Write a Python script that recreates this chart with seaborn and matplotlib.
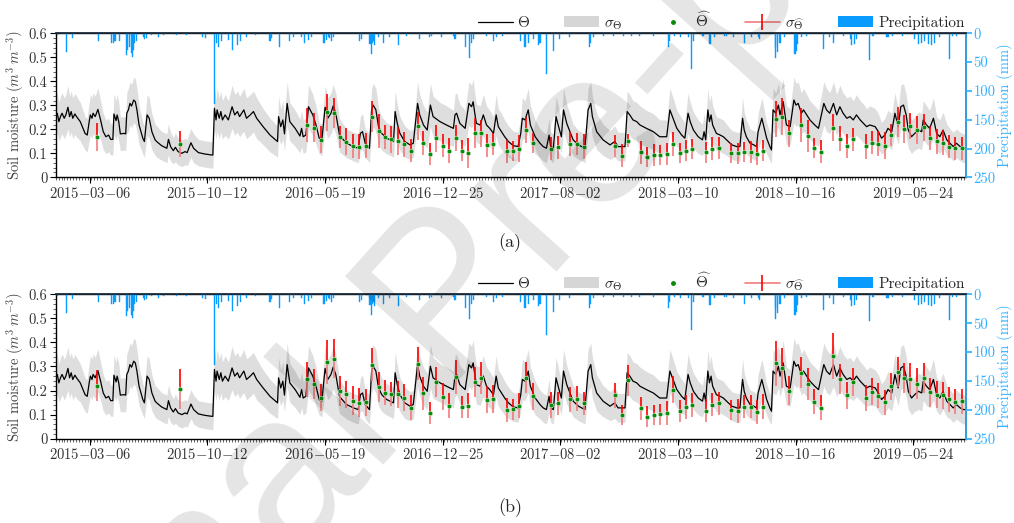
import pandas as pd
import numpy as np
import seaborn as sns
import matplotlib.pyplot as plt
from matplotlib.lines import Line2D
from matplotlib.patches import Patch
from matplotlib.ticker import FixedLocator, MultipleLocator

# days counted from 2015-01-01
start = pd.Timestamp('2015-01-01')

# simulated soil moisture (vertices) and its spread
theta_day = [0, 3, 6, 9, 12, 16, 19, 23, 26, 29, 32, 36, 39, 46, 55, 59, 63, 65, 68, 70, 74, 79, 84, 89, 94, 99,
             103, 107, 109, 113, 115, 118, 121, 128, 131, 133, 136, 139, 142, 146, 149, 152, 156, 163, 166, 171,
             175, 180, 186, 189, 198, 208, 211, 215, 220, 224, 229, 236, 242, 246, 253, 258, 267, 279, 292, 294,
             297, 300, 302, 306, 309, 312, 317, 323, 330, 335, 340, 344, 348, 352, 357, 364, 370, 376, 388, 401,
             415, 417, 421, 425, 428, 433, 438, 448, 457, 460, 463, 468, 473, 476, 481, 487, 493, 498, 504, 509,
             515, 519, 524, 531, 544, 557, 566, 570, 574, 579, 587, 591, 594, 599, 604, 610, 619, 632, 635, 639,
             644, 653, 663, 669, 677, 681, 688, 695, 701, 706, 719, 731, 744, 747, 750, 756, 766, 773, 778, 781,
             784, 787, 794, 800, 806, 812, 819, 824, 828, 834, 840, 847, 856, 865, 870, 873, 878, 881, 884, 888,
             897, 906, 912, 918, 923, 926, 931, 936, 940, 946, 950, 956, 968, 978, 984, 990, 996, 1001, 1004, 1012,
             1024, 1037, 1046, 1052, 1065, 1069, 1074, 1080, 1087, 1093, 1105, 1118, 1130, 1143, 1149, 1155, 1162,
             1171, 1177, 1183, 1187, 1193, 1202, 1210, 1213, 1216, 1220, 1223, 1226, 1229, 1236, 1243, 1249, 1255,
             1265, 1274, 1280, 1283, 1285, 1288, 1292, 1299, 1306, 1311, 1314, 1321, 1324, 1330, 1336, 1339, 1342,
             1347, 1352, 1355, 1361, 1367, 1374, 1381, 1385, 1389, 1395, 1399, 1405, 1411, 1420, 1427, 1437, 1442,
             1448, 1455, 1461, 1467, 1473, 1480, 1486, 1492, 1498, 1505, 1511, 1517, 1523, 1533, 1539, 1545, 1551,
             1557, 1564, 1570, 1576, 1581, 1586, 1591, 1595, 1601, 1607, 1614, 1620, 1623, 1629, 1635, 1642, 1648,
             1654, 1660, 1667, 1673, 1679, 1685, 1692, 1698, 1703]
theta_val = [0.260, 0.267, 0.232, 0.253, 0.267, 0.246, 0.260, 0.292, 0.253, 0.274, 0.246, 0.264, 0.253, 0.232,
             0.183, 0.176, 0.236, 0.260, 0.246, 0.267, 0.253, 0.283, 0.239, 0.190, 0.169, 0.176, 0.158, 0.158,
             0.264, 0.236, 0.260, 0.232, 0.181, 0.183, 0.181, 0.267, 0.281, 0.308, 0.297, 0.322, 0.315, 0.281,
             0.218, 0.163, 0.149, 0.260, 0.246, 0.190, 0.156, 0.149, 0.132, 0.121, 0.158, 0.128, 0.111, 0.125,
             0.107, 0.100, 0.107, 0.103, 0.144, 0.121, 0.103, 0.097, 0.093, 0.093, 0.288, 0.239, 0.281, 0.246,
             0.274, 0.239, 0.260, 0.239, 0.294, 0.260, 0.274, 0.253, 0.267, 0.281, 0.246, 0.260, 0.274, 0.246,
             0.211, 0.176, 0.149, 0.253, 0.211, 0.239, 0.181, 0.308, 0.232, 0.204, 0.172, 0.204, 0.169, 0.176,
             0.294, 0.281, 0.260, 0.218, 0.163, 0.156, 0.292, 0.246, 0.267, 0.297, 0.267, 0.175, 0.142, 0.128,
             0.121, 0.183, 0.190, 0.142, 0.121, 0.281, 0.301, 0.281, 0.211, 0.183, 0.163, 0.149, 0.274, 0.225,
             0.183, 0.149, 0.135, 0.142, 0.308, 0.260, 0.218, 0.197, 0.301, 0.253, 0.232, 0.218, 0.204, 0.260,
             0.267, 0.225, 0.204, 0.308, 0.294, 0.315, 0.267, 0.225, 0.218, 0.260, 0.218, 0.204, 0.183, 0.260,
             0.211, 0.190, 0.169, 0.149, 0.132, 0.128, 0.183, 0.246, 0.239, 0.260, 0.281, 0.218, 0.169, 0.142,
             0.128, 0.121, 0.176, 0.128, 0.121, 0.253, 0.218, 0.169, 0.281, 0.225, 0.156, 0.135, 0.128, 0.121,
             0.281, 0.308, 0.253, 0.190, 0.156, 0.135, 0.149, 0.128, 0.128, 0.274, 0.260, 0.239, 0.232, 0.218,
             0.204, 0.190, 0.169, 0.169, 0.281, 0.246, 0.204, 0.176, 0.163, 0.267, 0.232, 0.197, 0.169, 0.156,
             0.190, 0.156, 0.281, 0.232, 0.260, 0.218, 0.183, 0.176, 0.169, 0.156, 0.135, 0.128, 0.128, 0.204,
             0.246, 0.197, 0.169, 0.142, 0.135, 0.128, 0.190, 0.246, 0.218, 0.163, 0.128, 0.114, 0.281, 0.267,
             0.301, 0.260, 0.315, 0.218, 0.211, 0.322, 0.301, 0.308, 0.267, 0.281, 0.260, 0.239, 0.218, 0.204,
             0.308, 0.281, 0.267, 0.308, 0.260, 0.294, 0.267, 0.246, 0.253, 0.239, 0.260, 0.239, 0.225, 0.211,
             0.218, 0.211, 0.190, 0.163, 0.176, 0.204, 0.190, 0.267, 0.211, 0.294, 0.301, 0.260, 0.197, 0.169,
             0.183, 0.197, 0.190, 0.239, 0.218, 0.204, 0.246, 0.183, 0.169, 0.197, 0.156, 0.142, 0.128, 0.142,
             0.128, 0.121, 0.121]
theta_sig = [0.085, 0.085, 0.08, 0.085, 0.085, 0.085, 0.085, 0.09, 0.085, 0.085, 0.085, 0.085, 0.085, 0.08,
             0.07, 0.07, 0.08, 0.085, 0.085, 0.085, 0.085, 0.09, 0.08, 0.075, 0.07, 0.07, 0.065, 0.065,
             0.085, 0.08, 0.085, 0.08, 0.07, 0.07, 0.07, 0.085, 0.09, 0.09, 0.09, 0.095, 0.095, 0.09,
             0.08, 0.065, 0.065, 0.085, 0.085, 0.075, 0.065, 0.065, 0.06, 0.06, 0.065, 0.06, 0.055, 0.06,
             0.055, 0.055, 0.055, 0.055, 0.06, 0.06, 0.055, 0.055, 0.055, 0.055, 0.09, 0.08, 0.09, 0.085,
             0.085, 0.08, 0.085, 0.08, 0.09, 0.085, 0.085, 0.085, 0.085, 0.09, 0.085, 0.085, 0.085, 0.085,
             0.075, 0.07, 0.065, 0.085, 0.075, 0.08, 0.07, 0.09, 0.08, 0.075, 0.07, 0.075, 0.07, 0.07,
             0.09, 0.09, 0.085, 0.08, 0.065, 0.065, 0.09, 0.085, 0.085, 0.09, 0.085, 0.07, 0.06, 0.06,
             0.06, 0.07, 0.075, 0.06, 0.06, 0.09, 0.09, 0.09, 0.075, 0.07, 0.065, 0.065, 0.085, 0.08,
             0.07, 0.065, 0.06, 0.06, 0.09, 0.085, 0.08, 0.075, 0.09, 0.085, 0.08, 0.08, 0.075, 0.085,
             0.085, 0.08, 0.075, 0.09, 0.09, 0.095, 0.085, 0.08, 0.08, 0.085, 0.08, 0.075, 0.07, 0.085,
             0.075, 0.075, 0.07, 0.065, 0.06, 0.06, 0.07, 0.085, 0.08, 0.085, 0.09, 0.08, 0.07, 0.06,
             0.06, 0.06, 0.07, 0.06, 0.06, 0.085, 0.08, 0.07, 0.09, 0.08, 0.065, 0.06, 0.06, 0.06,
             0.09, 0.09, 0.085, 0.075, 0.065, 0.06, 0.065, 0.06, 0.06, 0.085, 0.085, 0.08, 0.08, 0.08,
             0.075, 0.075, 0.07, 0.07, 0.09, 0.085, 0.075, 0.07, 0.065, 0.085, 0.08, 0.075, 0.07, 0.065,
             0.075, 0.065, 0.09, 0.08, 0.085, 0.08, 0.07, 0.07, 0.07, 0.065, 0.06, 0.06, 0.06, 0.075,
             0.085, 0.075, 0.07, 0.06, 0.06, 0.06, 0.075, 0.085, 0.08, 0.065, 0.06, 0.055, 0.09, 0.085,
             0.09, 0.085, 0.095, 0.08, 0.075, 0.095, 0.09, 0.09, 0.085, 0.09, 0.085, 0.08, 0.08, 0.075,
             0.09, 0.09, 0.085, 0.09, 0.085, 0.09, 0.085, 0.085, 0.085, 0.08, 0.085, 0.08, 0.08, 0.075,
             0.08, 0.075, 0.075, 0.065, 0.07, 0.075, 0.075, 0.085, 0.075, 0.09, 0.09, 0.085, 0.075, 0.07,
             0.07, 0.075, 0.075, 0.08, 0.08, 0.075, 0.085, 0.07, 0.07, 0.075, 0.065, 0.06, 0.06, 0.06,
             0.06, 0.06, 0.06]

# retrieved soil moisture dates (shared by both panels)
obs_day = [77, 233, 471, 484, 496, 508, 520, 531, 544, 557, 568, 580, 592, 604, 616, 628, 640, 652, 664, 677,
           688, 700, 712, 724, 736, 748, 760, 772, 784, 796, 807, 819, 844, 855, 867, 879, 892, 927, 939, 963,
           975, 988, 1047, 1059, 1071, 1095, 1107, 1119, 1131, 1143, 1155, 1168, 1180, 1191, 1216, 1228, 1240,
           1264, 1276, 1288, 1300, 1312, 1324, 1347, 1359, 1372, 1395, 1407, 1419, 1432, 1455, 1467, 1480, 1491,
           1516, 1527, 1539, 1551, 1563, 1576, 1587, 1599, 1611, 1624, 1636, 1648, 1659, 1671, 1683, 1695]
obs_a_val = [0.169, 0.139, 0.218, 0.207, 0.156, 0.271, 0.267, 0.167, 0.149, 0.131, 0.128, 0.131, 0.253, 0.193,
             0.169, 0.158, 0.150, 0.138, 0.111, 0.213, 0.142, 0.097, 0.163, 0.132, 0.110, 0.164, 0.111, 0.100,
             0.186, 0.183, 0.133, 0.139, 0.108, 0.108, 0.119, 0.197, 0.144, 0.119, 0.125, 0.139, 0.139, 0.128,
             0.131, 0.090, 0.153, 0.104, 0.086, 0.093, 0.094, 0.097, 0.139, 0.100, 0.111, 0.117, 0.104, 0.119,
             0.121, 0.103, 0.100, 0.107, 0.106, 0.097, 0.111, 0.243, 0.253, 0.183, 0.218, 0.172, 0.121, 0.107,
             0.207, 0.160, 0.131, 0.158, 0.129, 0.144, 0.139, 0.131, 0.176, 0.229, 0.200, 0.214, 0.197, 0.208,
             0.163, 0.151, 0.144, 0.128, 0.121, 0.121]
obs_a_sig = [0.059, 0.053, 0.069, 0.059, 0.056, 0.078, 0.063, 0.045, 0.056, 0.049, 0.052, 0.052, 0.063, 0.069,
             0.049, 0.056, 0.059, 0.052, 0.049, 0.059, 0.049, 0.045, 0.056, 0.049, 0.052, 0.056, 0.045, 0.063,
             0.063, 0.056, 0.049, 0.045, 0.049, 0.042, 0.056, 0.056, 0.042, 0.049, 0.049, 0.049, 0.045, 0.052,
             0.045, 0.049, 0.028, 0.049, 0.042, 0.045, 0.042, 0.045, 0.049, 0.042, 0.045, 0.042, 0.045, 0.049,
             0.045, 0.042, 0.045, 0.042, 0.045, 0.045, 0.045, 0.073, 0.076, 0.056, 0.069, 0.066, 0.042, 0.049,
             0.056, 0.052, 0.049, 0.049, 0.052, 0.049, 0.052, 0.056, 0.045, 0.063, 0.059, 0.056, 0.059, 0.056,
             0.049, 0.052, 0.052, 0.049, 0.049, 0.049]
obs_b_val = [0.221, 0.206, 0.247, 0.228, 0.171, 0.319, 0.333, 0.199, 0.185, 0.158, 0.150, 0.151, 0.307, 0.215,
             0.190, 0.185, 0.185, 0.171, 0.129, 0.311, 0.189, 0.106, 0.235, 0.175, 0.136, 0.256, 0.131, 0.137,
             0.236, 0.251, 0.161, 0.164, 0.119, 0.122, 0.136, 0.254, 0.176, 0.140, 0.147, 0.164, 0.165, 0.147,
             0.181, 0.097, 0.242, 0.126, 0.092, 0.097, 0.101, 0.106, 0.203, 0.115, 0.132, 0.140, 0.117, 0.142,
             0.147, 0.119, 0.114, 0.133, 0.133, 0.112, 0.133, 0.314, 0.292, 0.200, 0.275, 0.226, 0.153, 0.129,
             0.344, 0.247, 0.181, 0.235, 0.169, 0.196, 0.178, 0.151, 0.217, 0.278, 0.251, 0.249, 0.229, 0.251,
             0.192, 0.183, 0.181, 0.164, 0.154, 0.156]
obs_b_sig = [0.066, 0.083, 0.073, 0.063, 0.056, 0.090, 0.080, 0.063, 0.056, 0.059, 0.059, 0.056, 0.069, 0.063,
             0.052, 0.049, 0.056, 0.056, 0.052, 0.069, 0.069, 0.045, 0.063, 0.056, 0.052, 0.069, 0.045, 0.052,
             0.063, 0.066, 0.056, 0.059, 0.049, 0.045, 0.052, 0.066, 0.056, 0.052, 0.049, 0.052, 0.052, 0.049,
             0.052, 0.042, 0.066, 0.049, 0.042, 0.042, 0.045, 0.049, 0.056, 0.045, 0.049, 0.049, 0.049, 0.049,
             0.049, 0.042, 0.049, 0.049, 0.049, 0.049, 0.052, 0.094, 0.083, 0.059, 0.066, 0.066, 0.052, 0.052,
             0.094, 0.063, 0.056, 0.059, 0.056, 0.056, 0.052, 0.052, 0.056, 0.063, 0.063, 0.066, 0.066, 0.063,
             0.059, 0.056, 0.056, 0.052, 0.052, 0.052]

# daily precipitation (mm)
rain_day = [3, 21, 32, 80, 105, 108, 111, 119, 132, 135, 138, 141, 143, 145, 148, 152, 164, 167, 170, 180, 192,
            201, 226, 245, 275, 281, 297, 300, 304, 311, 323, 331, 340, 346, 357, 373, 401, 404, 418, 438, 445,
            460, 466, 473, 479, 502, 506, 510, 513, 516, 519, 569, 572, 588, 590, 592, 594, 596, 604, 613, 625,
            641, 657, 681, 700, 703, 722, 744, 747, 766, 775, 778, 781, 806, 819, 825, 836, 869, 878, 884, 893,
            904, 906, 918, 931, 943, 962, 999, 1001, 1006, 1024, 1043, 1062, 1077, 1093, 1118, 1146, 1149, 1158,
            1168, 1183, 1190, 1193, 1211, 1224, 1233, 1252, 1255, 1268, 1289, 1302, 1314, 1317, 1346, 1347, 1350,
            1355, 1364, 1383, 1385, 1387, 1395, 1405, 1436, 1448, 1455, 1473, 1486, 1489, 1495, 1498, 1523, 1529,
            1554, 1557, 1566, 1585, 1607, 1614, 1620, 1626, 1632, 1638, 1644, 1654, 1672, 1678, 1685]
rain_mm = [3, 32, 9, 14, 17, 17, 14, 14, 38, 29, 23, 35, 41, 29, 17, 14, 6, 10, 9, 3, 6,
           3, 3, 3, 6, 9, 122, 17, 23, 14, 12, 29, 20, 14, 6, 3, 14, 9, 23, 14, 6,
           6, 17, 12, 6, 17, 12, 6, 9, 14, 6, 13, 10, 18, 36, 16, 13, 21, 7, 16, 7,
           21, 4, 10, 7, 4, 7, 4, 10, 24, 42, 16, 10, 4, 13, 7, 4, 13, 24, 16, 10,
           21, 16, 71, 30, 10, 7, 24, 16, 7, 4, 4, 4, 4, 4, 4, 24, 13, 4,
           7, 7, 62, 13, 4, 18, 7, 4, 4, 7, 16, 7, 7, 10, 42, 24, 33,
           16, 7, 36, 30, 18, 7, 4, 27, 7, 16, 4, 10, 21, 18, 10, 47, 4,
           7, 7, 4, 4, 10, 18, 16, 13, 18, 21, 16, 7, 44, 4, 4]

tick_dates = pd.date_range('2015-03-06', periods=8, freq='220D')


def to_dates(days):
    return start + pd.to_timedelta(np.asarray(days), unit='D')


sns.set_theme(style='ticks')
plt.rcParams['font.family'] = 'serif'
plt.rcParams['font.serif'] = ['cmr10', 'DejaVu Serif']
plt.rcParams['mathtext.fontset'] = 'cm'
plt.rcParams['axes.unicode_minus'] = False
plt.rcParams['axes.formatter.use_mathtext'] = True

RAIN = '#0a9bff'
RAIN_AX = '#33b1ff'

fig = plt.figure(figsize=(10.14, 5.23), dpi=100)
ax_a = fig.add_axes([0.0549, 0.661, 0.8978, 0.2753])
ax_b = fig.add_axes([0.0549, 0.1612, 0.8978, 0.2761])

t_dates = to_dates(theta_day)
o_dates = to_dates(obs_day)
r_dates = to_dates(rain_day)
t_val = np.array(theta_val)
t_sig = np.array(theta_sig)

for ax, vals, sigs, cap, cy in [(ax_a, obs_a_val, obs_a_sig, '(a)', 0.537),
                                (ax_b, obs_b_val, obs_b_sig, '(b)', 0.029)]:
    vals = np.array(vals)
    sigs = np.array(sigs)
    ax.fill_between(t_dates, t_val - t_sig, t_val + t_sig, color='#dedede', lw=0, zorder=1)
    sns.lineplot(x=t_dates, y=t_val, ax=ax, color='black', lw=0.9, estimator=None, zorder=2)
    ax.vlines(o_dates, vals, vals + sigs, color='#ff0000', lw=1.2, zorder=3)
    ax.vlines(o_dates, vals - sigs, vals, color='#f47a7a', lw=1.2, zorder=3)
    sns.scatterplot(x=o_dates, y=vals, ax=ax, color='#0a8a0a', s=11, edgecolor='#d8f0d8',
                    linewidth=0.4, zorder=4)

    ax.set_xlim(start, start + pd.Timedelta(days=1703))
    ax.set_ylim(0, 0.6)
    ax.set_yticks(np.arange(0, 0.61, 0.1))
    ax.set_yticklabels(['0', '0.1', '0.2', '0.3', '0.4', '0.5', '0.6'])
    ax.yaxis.set_minor_locator(MultipleLocator(0.02))
    ax.set_xticks(tick_dates)
    ax.set_xticklabels(['$' + d.strftime('%Y{-}%m{-}%d') + '$' for d in tick_dates])
    minor = pd.date_range(start, periods=320, freq='5.5D')
    ax.xaxis.set_minor_locator(FixedLocator(plt.matplotlib.dates.date2num(minor)))
    ax.tick_params(axis='both', which='major', labelsize=10.5, length=4, width=0.8, color='black',
                   labelcolor='#333333', pad=2)
    ax.tick_params(axis='both', which='minor', length=2, width=0.5)
    ax.set_ylabel(r'Soil moisture ($m^3\,m^{-3}$)', fontsize=10.5, color='#444444', labelpad=2)
    ax.set_xlabel('')
    for s in ['left', 'bottom', 'top']:
        ax.spines[s].set_color('black')
        ax.spines[s].set_linewidth(1.0)

    ax2 = ax.twinx()
    ax2.bar(r_dates, rain_mm, width=2.0, color=RAIN, edgecolor=RAIN, linewidth=0.3)
    ax2.set_ylim(250, 0)
    ax2.set_yticks([0, 50, 100, 150, 200, 250])
    ax2.set_yticklabels(['0', '50', '100', '150', '200', '250'])
    ax2.tick_params(axis='y', colors=RAIN_AX, labelsize=10.5, length=4, pad=1.5)
    ax2.set_ylabel('Precipitation (mm)', color=RAIN_AX, fontsize=10.5, labelpad=1)
    ax2.spines['right'].set_color(RAIN_AX)
    ax2.spines['right'].set_linewidth(1.2)
    ax2.spines['left'].set_visible(False)
    ax2.spines['top'].set_color('#1a2a3a')
    ax2.spines['bottom'].set_visible(False)
    ax2.set_xlim(start, start + pd.Timedelta(days=1703))

    handles = [Line2D([], [], color='black', lw=0.9),
               Patch(facecolor='#d6d6d6', edgecolor='none'),
               Line2D([], [], ls='none', marker='o', color='#0a8a0a', markersize=2.5),
               Line2D([], [], color='#f47a7a', lw=1.2, marker='|', markersize=12,
                      markeredgecolor='#ff0000', markeredgewidth=1.2),
               Patch(facecolor=RAIN, edgecolor='none')]
    labels = [r'$\Theta$', r'$\sigma_{\Theta}$', r'$\widehat{\Theta}$', r'$\sigma_{\widehat{\Theta}}$',
              'Precipitation']
    ax2.legend(handles, labels, loc='lower right', bbox_to_anchor=(1.0, 1.0), ncol=5, frameon=False,
               fontsize=11, handlelength=2.3, columnspacing=2.2, handletextpad=0.3,
               borderaxespad=0.1, borderpad=0.0)

    fig.text(0.503, cy, cap, ha='center', va='center', fontsize=13, color='#222222')

# journal watermark laid over the page
fig.text(0.445, 0.42, 'Journal Pre-proof', rotation=48, ha='center', va='center',
         fontsize=160, family='Liberation Sans', color='black', alpha=0.105, zorder=10)

fig.savefig('out.png', dpi=100)
